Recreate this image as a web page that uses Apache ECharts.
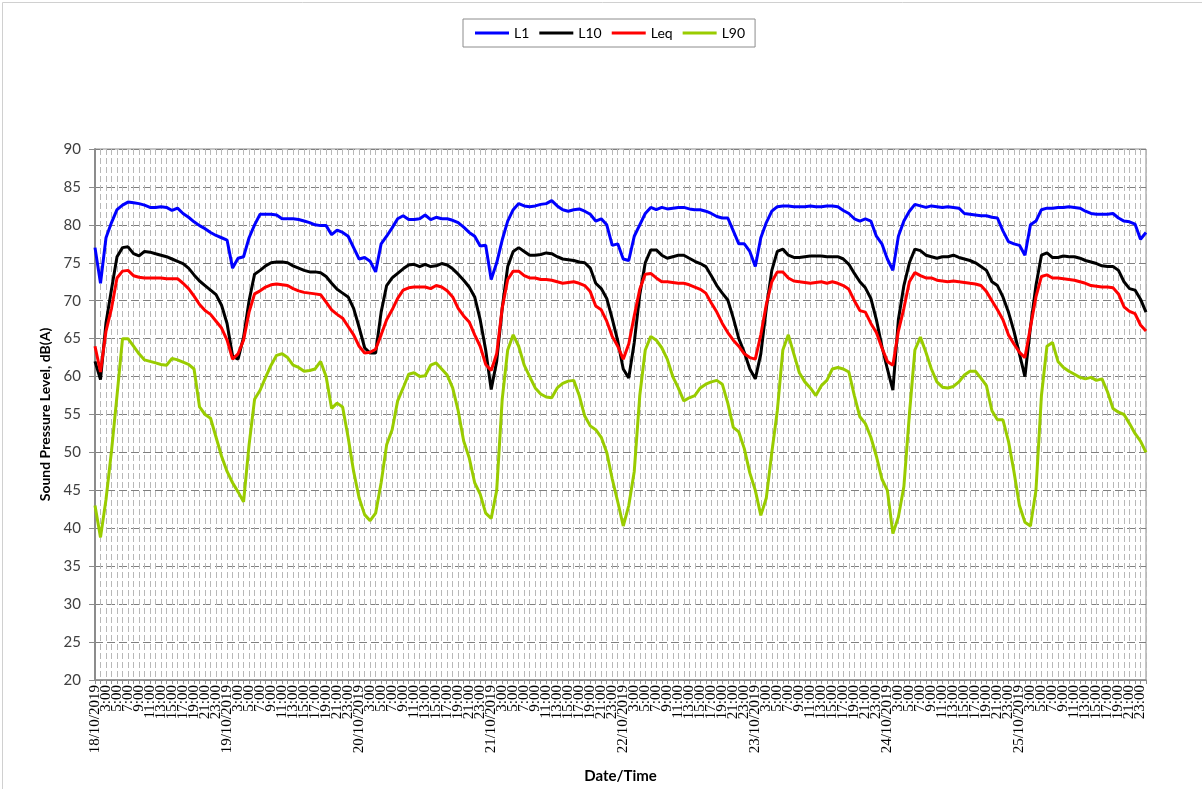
<!DOCTYPE html>
<html>
<head>
<meta charset="utf-8">
<script src="https://cdn.jsdelivr.net/npm/echarts@6/dist/echarts.min.js"></script>
<style>
html,body{margin:0;padding:0;background:#fff;}
#chart{width:1202px;height:789px;}
</style>
</head>
<body>
<div id="chart"></div>
<script>
// ---- data ----
const days = ['18/10/2019','19/10/2019','20/10/2019','21/10/2019','22/10/2019','23/10/2019','24/10/2019','25/10/2019'];
const hourLabels = ['1:00','2:00','3:00','4:00','5:00','6:00','7:00','8:00','9:00','10:00','11:00','12:00',
  '13:00','14:00','15:00','16:00','17:00','18:00','19:00','20:00','21:00','22:00','23:00','24:00'];
const yTicks = [20,25,30,35,40,45,50,55,60,65,70,75,80,85,90];

const L1 = [
 77.0,72.3,78.3,80.3,82.0,82.6,83.0,82.9,82.8,82.6,82.3,82.3,82.4,82.3,81.9,82.2,81.5,81.0,80.4,79.9,79.5,79.0,78.6,78.3,
 78.0,74.3,75.6,75.8,78.3,80.0,81.4,81.4,81.4,81.3,80.8,80.8,80.8,80.7,80.5,80.3,80.0,79.9,79.9,78.7,79.3,79.0,78.5,77.0,
 75.5,75.7,75.2,73.8,77.5,78.5,79.6,80.8,81.2,80.7,80.7,80.8,81.3,80.7,81.0,80.8,80.8,80.6,80.3,79.7,79.0,78.5,77.2,77.3,
 72.8,75.0,78.0,80.5,82.0,82.8,82.5,82.4,82.5,82.7,82.8,83.2,82.5,82.0,81.8,82.0,82.1,81.8,81.4,80.5,80.8,80.0,77.3,77.5,
 75.5,75.3,78.5,80.0,81.5,82.3,82.0,82.3,82.1,82.2,82.3,82.3,82.1,82.0,82.0,81.8,81.5,81.1,80.9,80.9,79.2,77.5,77.5,76.5,
 74.5,78.3,80.3,81.8,82.4,82.5,82.5,82.4,82.4,82.4,82.5,82.4,82.4,82.5,82.5,82.4,81.9,81.5,80.8,80.5,80.8,80.5,78.5,77.5,
 75.5,74.0,78.5,80.5,81.8,82.7,82.5,82.3,82.5,82.4,82.3,82.4,82.3,82.2,81.5,81.4,81.3,81.2,81.2,81.0,80.9,79.2,77.8,77.5,
 77.3,76.0,80.0,80.5,82.0,82.2,82.2,82.3,82.3,82.4,82.3,82.2,81.8,81.5,81.4,81.4,81.4,81.5,80.9,80.5,80.4,80.1,78.1,79.0
];
const L10 = [
 62.0,59.6,67.1,71.5,75.8,77.0,77.1,76.2,75.9,76.5,76.4,76.2,76.0,75.8,75.5,75.2,74.9,74.3,73.4,72.6,72.0,71.4,70.8,69.4,
 67.0,62.7,62.3,65.2,70.0,73.5,74.0,74.6,75.0,75.1,75.1,75.0,74.6,74.3,74.0,73.8,73.8,73.7,73.2,72.3,71.5,71.0,70.5,69.0,
 66.5,63.8,63.1,63.1,68.5,72.0,73.0,73.6,74.2,74.7,74.8,74.5,74.8,74.5,74.6,74.9,74.7,74.2,73.5,72.7,71.8,70.5,67.5,63.5,
 58.3,62.0,69.0,74.5,76.5,77.0,76.5,76.0,76.0,76.1,76.3,76.2,75.8,75.5,75.4,75.3,75.1,75.0,74.3,72.3,71.6,70.3,67.6,64.7,
 61.0,59.8,64.5,70.8,75.0,76.7,76.7,76.0,75.6,75.8,76.0,76.0,75.6,75.2,74.9,74.5,73.3,72.0,71.0,70.1,67.7,65.0,63.2,61.0,
 59.7,63.0,69.0,74.0,76.5,76.8,76.0,75.7,75.7,75.8,75.9,75.9,75.9,75.8,75.8,75.8,75.5,74.8,73.6,72.5,71.7,70.3,67.5,64.0,
 61.0,58.2,67.5,72.0,75.0,76.8,76.6,76.0,75.8,75.6,75.8,75.8,76.0,75.7,75.5,75.3,75.0,74.5,74.0,72.5,72.0,70.5,68.5,66.0,
 63.0,60.0,66.5,72.0,76.0,76.3,75.7,75.7,75.9,75.8,75.8,75.6,75.3,75.1,74.9,74.6,74.5,74.5,74.0,72.5,71.6,71.4,70.2,68.5
];
const Leq = [
 64.0,60.6,66.0,69.0,73.0,73.9,74.0,73.3,73.1,73.0,73.0,73.0,73.0,72.9,72.9,72.9,72.3,71.6,70.6,69.5,68.7,68.2,67.3,66.4,
 64.8,62.3,63.0,64.8,68.5,70.9,71.3,71.8,72.1,72.2,72.1,72.0,71.6,71.3,71.1,71.0,70.9,70.8,69.8,68.8,68.2,67.7,66.6,65.5,
 64.0,63.1,63.2,63.6,65.5,67.5,68.8,70.3,71.4,71.7,71.8,71.8,71.8,71.6,72.0,71.8,71.3,70.5,69.0,68.0,67.2,65.5,64.0,61.6,
 60.8,63.0,69.0,72.8,73.9,73.9,73.3,73.0,73.0,72.8,72.8,72.7,72.5,72.3,72.4,72.5,72.3,72.0,71.2,69.3,68.8,67.3,65.3,64.0,
 62.3,64.3,68.0,71.5,73.5,73.6,73.0,72.5,72.5,72.4,72.3,72.3,72.1,71.8,71.5,71.0,69.7,68.5,67.0,65.8,64.8,64.0,63.0,62.5,
 62.3,65.5,69.5,72.5,73.8,73.8,73.0,72.6,72.5,72.4,72.3,72.4,72.5,72.3,72.5,72.3,72.0,71.5,70.0,68.7,68.5,67.0,65.8,63.8,
 62.0,61.5,66.0,69.0,72.5,73.7,73.3,73.0,73.0,72.7,72.6,72.5,72.6,72.5,72.4,72.3,72.2,72.0,71.2,70.0,68.8,67.5,65.5,64.3,
 63.2,62.5,66.5,70.5,73.2,73.4,73.0,73.0,72.9,72.8,72.7,72.5,72.3,72.0,71.9,71.8,71.8,71.7,70.9,69.2,68.6,68.3,66.8,66.0
];
const L90 = [
 43.0,38.8,43.8,50.2,57.5,65.0,65.0,64.0,63.0,62.2,62.0,61.8,61.6,61.5,62.4,62.2,61.9,61.6,61.0,56.0,55.0,54.5,52.0,49.5,
 47.5,46.0,44.8,43.5,51.0,57.0,58.2,59.9,61.5,62.8,63.0,62.5,61.5,61.2,60.7,60.8,61.0,62.0,60.0,55.8,56.5,56.0,52.0,47.5,
 44.0,41.8,41.0,42.0,46.0,51.0,53.0,56.8,58.5,60.3,60.5,60.0,60.1,61.5,61.8,61.0,60.2,58.5,55.5,51.5,49.3,46.0,44.5,42.0,
 41.3,45.0,57.0,63.5,65.5,64.0,61.5,60.0,58.5,57.7,57.3,57.2,58.5,59.1,59.4,59.5,57.5,54.8,53.5,53.0,52.0,50.0,46.5,43.5,
 40.3,43.0,47.5,57.5,63.5,65.3,64.8,63.8,62.3,60.0,58.5,56.8,57.2,57.5,58.5,59.0,59.3,59.5,59.0,56.5,53.3,52.7,50.5,47.3,
 45.0,41.7,44.0,50.0,55.5,63.5,65.5,63.0,60.5,59.3,58.5,57.5,58.8,59.5,61.0,61.2,61.0,60.6,57.5,54.7,53.8,52.0,49.5,46.5,
 45.0,39.3,41.5,45.5,55.0,63.5,65.2,63.2,61.0,59.3,58.6,58.5,58.7,59.3,60.2,60.7,60.7,59.8,58.8,55.5,54.3,54.3,51.5,47.5,
 43.0,40.8,40.3,45.0,57.5,64.0,64.5,62.0,61.2,60.7,60.3,59.9,59.7,59.9,59.5,59.7,58.0,55.8,55.3,55.0,53.8,52.5,51.5,50.0
];

// category labels: first hour of each day carries the date
const categories = [];
days.forEach(d => hourLabels.forEach((h, k) => categories.push(k === 0 ? d : h)));

const chart = echarts.init(document.getElementById('chart'), null, {renderer: 'canvas'});
const sans = 'Lato, "Liberation Sans", sans-serif';
chart.setOption({
  animation: false,
  backgroundColor: '#fff',
  graphic: [{
    type: 'rect', left: 0, top: 0, silent: true,
    shape: {x: 0.5, y: 0.5, width: 1200, height: 787},
    style: {fill: 'none', stroke: '#d0d0d0', lineWidth: 1}
  }],
  legend: {
    top: 19, left: 463,
    data: ['L1', 'L10', 'Leq', 'L90'],
    icon: 'rect', itemWidth: 34, itemHeight: 3, itemGap: 10,
    borderColor: '#8c8c8c', borderWidth: 1, padding: [7, 10, 7, 12],
    textStyle: {fontFamily: sans, fontSize: 14, color: '#000'}
  },
  grid: {left: 95, right: 56, top: 149, bottom: 104, show: true, borderColor: '#8c8c8c', borderWidth: 1},
  xAxis: {
    type: 'category', data: categories, boundaryGap: false,
    name: 'Date/Time', nameLocation: 'middle', nameGap: 89,
    nameTextStyle: {fontFamily: sans, fontSize: 15, fontWeight: 'bold', color: '#000'},
    axisLine: {lineStyle: {color: '#8c8c8c', width: 1.5}},
    axisTick: {show: true, interval: 0, length: 4, lineStyle: {color: '#8c8c8c'}},
    axisLabel: {
      interval: 0, hideOverlap: false,
      formatter: function (value, index) { return index % 2 === 0 ? value : ''; },
      rotate: 90, margin: 5, fontFamily: '"Liberation Serif", serif', fontSize: 15, color: '#000'
    },
    splitLine: {show: true, interval: 0, lineStyle: {color: '#b8b8b8', type: [6, 3], width: 1}}
  },
  yAxis: {
    type: 'value', min: yTicks[0], max: yTicks[yTicks.length - 1], interval: 5,
    name: 'Sound Pressure Level, dB(A)', nameLocation: 'middle', nameGap: 40,
    nameTextStyle: {fontFamily: sans, fontSize: 14, fontWeight: 'bold', color: '#000'},
    axisLine: {show: true, lineStyle: {color: '#8c8c8c', width: 2}},
    axisTick: {show: true, length: 6, lineStyle: {color: '#8c8c8c'}},
    axisLabel: {margin: 14, fontFamily: sans, fontSize: 15, color: '#404040'},
    splitLine: {show: true, lineStyle: {color: '#7f7f7f', type: [8, 4], width: 1}}
  },
  series: [
    {name: 'L1', type: 'line', data: L1, showSymbol: false, color: '#0000ff', lineStyle: {width: 3}},
    {name: 'L10', type: 'line', data: L10, showSymbol: false, color: '#000000', lineStyle: {width: 3}},
    {name: 'Leq', type: 'line', data: Leq, showSymbol: false, color: '#ff0000', lineStyle: {width: 3}},
    {name: 'L90', type: 'line', data: L90, showSymbol: false, color: '#99cc00', lineStyle: {width: 3}}
  ]
});
</script>
</body>
</html>
